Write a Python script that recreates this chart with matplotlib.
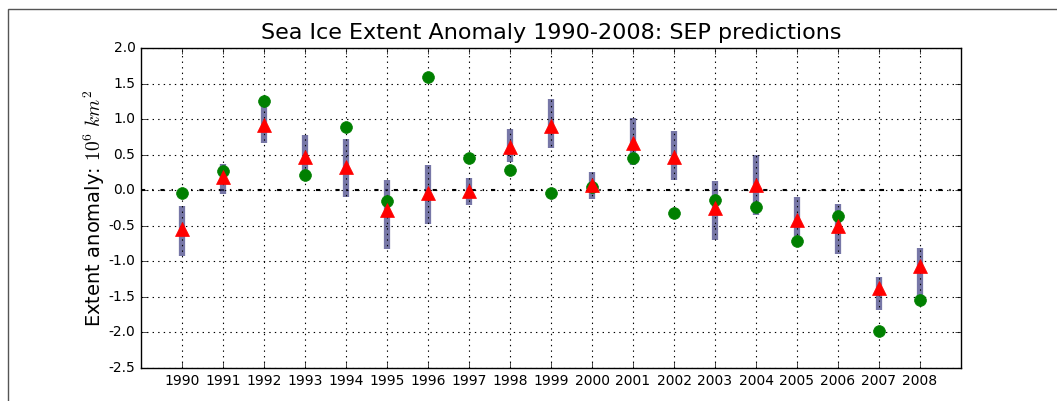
import matplotlib
matplotlib.use('Agg')
import matplotlib.pyplot as plt
from matplotlib.patches import Rectangle

years = list(range(1990, 2009))

# observed September extent anomaly
observed = [-0.04, 0.27, 1.26, 0.21, 0.89, -0.15, 1.59, 0.46, 0.28, -0.04,
            0.05, 0.46, -0.32, -0.14, -0.23, -0.71, -0.36, -1.98, -1.54]

# ensemble mean prediction
predicted = [-0.54, 0.18, 0.92, 0.47, 0.32, -0.28, -0.04, -0.01, 0.61, 0.90,
             0.08, 0.66, 0.47, -0.25, 0.07, -0.42, -0.50, -1.37, -1.07]

# spread of the ensemble members
ens_max = [-0.22, 0.37, 1.20, 0.78, 0.72, 0.15, 0.35, 0.17, 0.86, 1.28,
           0.26, 1.01, 0.83, 0.13, 0.49, -0.10, -0.19, -1.22, -0.81]
ens_min = [-0.93, -0.05, 0.67, 0.26, -0.09, -0.82, -0.47, -0.21, 0.40, 0.59,
           -0.13, 0.36, 0.14, -0.70, -0.35, -0.65, -0.90, -1.69, -1.52]

yticks = [2.0, 1.5, 1.0, 0.5, 0.0, -0.5, -1.0, -1.5, -2.0, -2.5]

plt.style.use('classic')
fig = plt.figure(figsize=(10.57, 4.01), dpi=100, facecolor='white')
ax = fig.add_axes([141 / 1057, 1 - 368 / 401, 820 / 1057, 320 / 401])

ax.axhline(0, color='k', linestyle='-.', linewidth=1.5, zorder=1)
ax.vlines(years, ens_min, ens_max, color='#2e2e78', alpha=0.65, linewidth=4.5, zorder=2)
ax.plot(years, observed, 'o', color='green', markeredgecolor='green', markersize=8.5, zorder=3)
ax.plot(years, predicted, '^', color='red', markeredgecolor='red', markersize=10, zorder=4)

ax.set_xlim(1989, 2009)
ax.set_ylim(-2.5, 2.0)
ax.set_xticks(years)
ax.set_xticklabels([str(y) for y in years], fontsize=10)
ax.set_yticks(yticks)
ax.set_yticklabels(['%.1f' % v for v in yticks], fontsize=10)
ax.grid(True, linestyle=':', color='k', linewidth=0.8)

ax.set_title('Sea Ice Extent Anomaly 1990-2008: SEP predictions', fontsize=16, y=1.005)
ax.set_ylabel(r'Extent anomaly: $10^6\ km^2$', fontsize=14, labelpad=1)

# outer frame line
fig.add_artist(Rectangle((8 / 1057, -0.2), 1.2, 1.2 - 9 / 401, transform=fig.transFigure,
                         fill=False, edgecolor='#555555', linewidth=1))

fig.savefig('out.png', dpi=100, facecolor='white')
